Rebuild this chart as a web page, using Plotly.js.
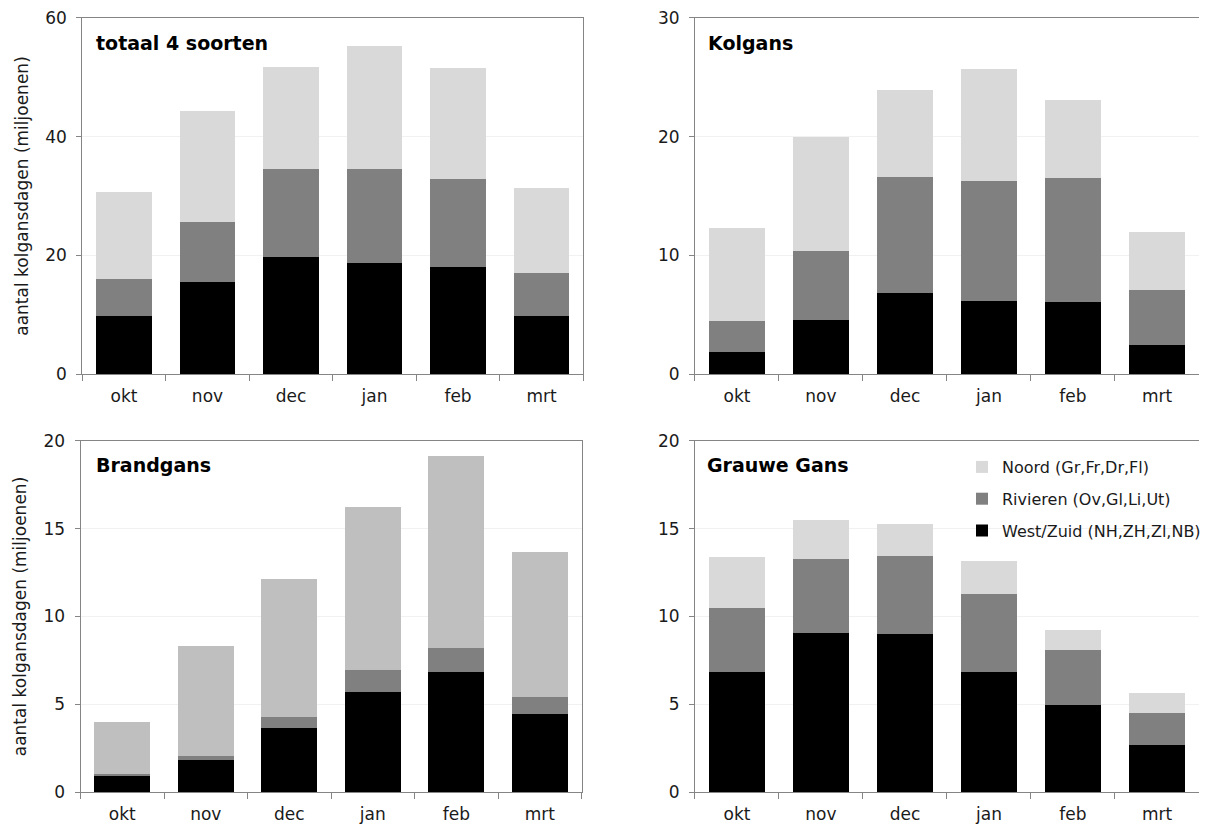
<!DOCTYPE html>
<html>
<head>
<meta charset="utf-8">
<script src="https://cdn.plot.ly/plotly-3.0.1.min.js"></script>
<style>html,body{margin:0;padding:0;background:#fff;overflow:hidden}#chart{width:1206px;height:825px}</style>
</head>
<body>
<div id="chart"></div>
<script>
const months = ["okt", "nov", "dec", "jan", "feb", "mrt"];
const seriesNames = ["West/Zuid (NH,ZH,Zl,NB)", "Rivieren (Ov,Gl,Li,Ut)", "Noord (Gr,Fr,Dr,Fl)"];
const panelTitles = ["totaal 4 soorten", "Kolgans", "Brandgans", "Grauwe Gans"];
const yTitle = "aantal kolgansdagen (miljoenen)";

// totaal 4 soorten
const totaalWest = [9.8, 15.5, 19.7, 18.7, 18.0, 9.8];
const totaalRivieren = [6.3, 10.2, 14.8, 15.9, 14.9, 7.3];
const totaalNoord = [14.5, 18.6, 17.2, 20.6, 18.6, 14.2];
// Kolgans
const kolgansWest = [1.9, 4.6, 6.8, 6.2, 6.1, 2.5];
const kolgansRivieren = [2.6, 5.8, 9.8, 10.1, 10.4, 4.6];
const kolgansNoord = [7.8, 9.6, 7.3, 9.4, 6.6, 4.9];
// Brandgans
const brandgansWest = [0.95, 1.86, 3.67, 5.72, 6.82, 4.46];
const brandgansRivieren = [0.09, 0.19, 0.62, 1.23, 1.38, 0.97];
const brandgansNoord = [2.96, 6.27, 7.83, 9.29, 10.93, 8.25];
// Grauwe Gans
const grauweWest = [6.82, 9.09, 9.03, 6.82, 4.99, 2.67];
const grauweRivieren = [3.69, 4.17, 4.40, 4.46, 3.09, 1.83];
const grauweNoord = [2.86, 2.21, 1.81, 1.90, 1.18, 1.16];

const yMax = [60, 30, 20, 20];
const yStep = [20, 10, 5, 5];

const W = 1206, H = 825;
// plot boxes in pixels [x0, x1, y0(top), y1(bottom)]
const boxes = [
  [82.7, 586.7, 17.7, 374.3],
  [699, 1206, 17.7, 374.3],
  [81, 585, 440.7, 792.3],
  [699, 1206, 440.7, 792.3]
];

const colWest = "#000000", colRiv = "#808080", colNoord = "#d9d9d9", colNoordBrand = "#bfbfbf";
const panels = [
  [totaalWest, totaalRivieren, totaalNoord, colNoord],
  [kolgansWest, kolgansRivieren, kolgansNoord, colNoord],
  [brandgansWest, brandgansRivieren, brandgansNoord, colNoordBrand],
  [grauweWest, grauweRivieren, grauweNoord, colNoord]
];

const FONT = "DejaVu Sans, Verdana, sans-serif";
const traces = [];
const layout = {
  width: W, height: H,
  margin: {l: 0, r: 0, t: 0, b: 0},
  paper_bgcolor: "#fff", plot_bgcolor: "#fff",
  barmode: "stack", bargap: 0.333,
  font: {family: FONT, size: 17, color: "#1a1a1a"},
  showlegend: true,
  legend: {
    x: 968 / W, y: 1 - 450 / H, xanchor: "left", yanchor: "top",
    traceorder: "grouped", tracegroupgap: 8,
    font: {family: FONT, size: 16, color: "#1a1a1a"},
    bgcolor: "rgba(0,0,0,0)", itemclick: false
  },
  annotations: []
};

panels.forEach((p, i) => {
  const idx = i === 0 ? "" : String(i + 1);
  const xa = "x" + idx, ya = "y" + idx;
  const cols = [colWest, colRiv, p[3]];
  for (let s = 0; s < 3; s++) {
    traces.push({
      type: "bar", x: months, y: p[s], name: seriesNames[s],
      xaxis: xa, yaxis: ya,
      marker: {color: cols[s], line: {width: 0}},
      showlegend: i === 3, legendgroup: "g" + s, legendrank: 3 - s,
      hoverinfo: "y"
    });
  }
  const b = boxes[i];
  const isLeft = (i % 2 === 0);
  layout["xaxis" + idx] = {
    domain: [b[0] / W, b[1] / W],
    anchor: ya,
    showline: true, linecolor: "#858585", linewidth: 1,
    mirror: true,
    ticks: "outside", tickson: "boundaries", ticklen: 6, tickcolor: "#858585",
    ticklabelstandoff: 6,
    tickfont: {family: FONT, size: 17, color: "#1a1a1a"},
    showgrid: false, fixedrange: true
  };
  layout["yaxis" + idx] = {
    domain: [1 - b[3] / H, 1 - b[2] / H],
    anchor: xa,
    range: [0, yMax[i]], dtick: yStep[i], tick0: 0,
    showline: true, linecolor: "#858585", linewidth: 1,
    mirror: isLeft,
    ticks: "outside", ticklen: 5, tickcolor: "#858585",
    ticklabelstandoff: 6,
    tickfont: {family: FONT, size: 17, color: "#1a1a1a"},
    showgrid: true, gridcolor: "#f1f1f1", gridwidth: 1,
    zeroline: false, fixedrange: true
  };
  if (isLeft) {
    layout["yaxis" + idx].title = {text: yTitle, font: {family: FONT, size: 17, color: "#1a1a1a"}, standoff: 12};
  }
  const titleX = [95, 710, 95, 709][i];
  const titleY = [43, 43, 465, 465][i];
  layout.annotations.push({
    xref: "paper", yref: "paper",
    x: titleX / W, y: 1 - titleY / H, xanchor: "left", yanchor: "middle",
    text: "<b>" + panelTitles[i] + "</b>", showarrow: false,
    font: {family: FONT, size: 19, color: "#000"}
  });
});

Plotly.newPlot("chart", traces, layout, {displayModeBar: false, staticPlot: false});
</script>
</body>
</html>
